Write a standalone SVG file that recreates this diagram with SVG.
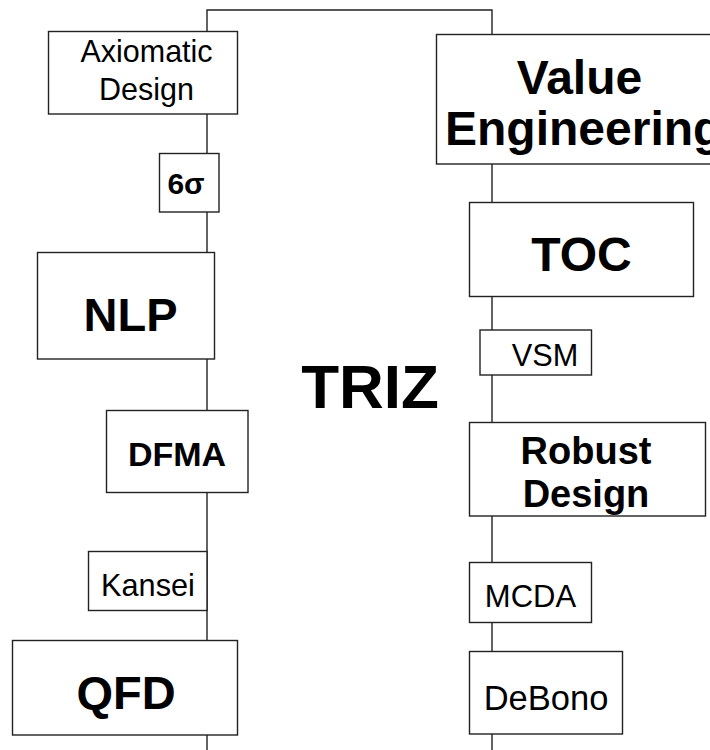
<svg xmlns="http://www.w3.org/2000/svg" width="710" height="750" viewBox="0 0 710 750">
<style>
.box{fill:#fff;stroke:#222;stroke-width:1.4}
.conn{fill:none;stroke:#222;stroke-width:1.4}
text{font-family:"Liberation Sans",Arial,sans-serif;fill:#000;text-anchor:middle}
.b{font-weight:bold}
</style>
<rect width="710" height="750" fill="#fff"/>
<g id="connectors">
<path class="conn" d="M207,750 V10 H492 V750"/>
</g>
<g id="axiomatic">
<rect class="box" x="48.5" y="31.5" width="189" height="82.5"/>
<text x="146.5" y="62" font-size="30.5">Axiomatic</text>
<text x="146.5" y="100" font-size="30.5">Design</text>
</g>
<g id="sixsigma">
<rect class="box" x="159.5" y="153.5" width="59.5" height="58.5"/>
<text class="b" x="186" y="194" font-size="30">6σ</text>
</g>
<g id="nlp">
<rect class="box" x="37.5" y="252.5" width="177" height="106.5"/>
<text class="b" x="130.5" y="330.5" font-size="47">NLP</text>
</g>
<g id="dfma">
<rect class="box" x="106.5" y="410.5" width="141.5" height="82"/>
<text class="b" x="177" y="465.5" font-size="34">DFMA</text>
</g>
<g id="kansei">
<rect class="box" x="88.5" y="551.5" width="118.5" height="59"/>
<text x="148" y="595.5" font-size="30.7">Kansei</text>
</g>
<g id="qfd">
<rect class="box" x="12.5" y="640.5" width="225" height="94.5"/>
<text class="b" x="126" y="708.5" font-size="47">QFD</text>
</g>
<g id="triz">
<text class="b" x="370" y="407.5" font-size="62">TRIZ</text>
</g>
<g id="value-engineering">
<rect class="box" x="436.5" y="34.5" width="290" height="129.5"/>
<text class="b" x="579.5" y="93.5" font-size="48">Value</text>
<text class="b" x="445" y="145" font-size="48" style="text-anchor:start">Engineering</text>
</g>
<g id="toc">
<rect class="box" x="469.5" y="202.5" width="224" height="94"/>
<text class="b" x="581.5" y="271" font-size="48">TOC</text>
</g>
<g id="vsm">
<rect class="box" x="480" y="330" width="111.5" height="45"/>
<text x="545" y="366" font-size="30.7">VSM</text>
</g>
<g id="robust-design">
<rect class="box" x="469.5" y="422.5" width="236" height="93.5"/>
<text class="b" x="586" y="463.5" font-size="38">Robust</text>
<text class="b" x="586" y="506.5" font-size="38">Design</text>
</g>
<g id="mcda">
<rect class="box" x="469.5" y="562.5" width="122" height="60"/>
<text x="530.5" y="606.5" font-size="31">MCDA</text>
</g>
<g id="debono">
<rect class="box" x="469.5" y="651.5" width="153" height="82.5"/>
<text x="546" y="709.5" font-size="34.5">DeBono</text>
</g>
</svg>
